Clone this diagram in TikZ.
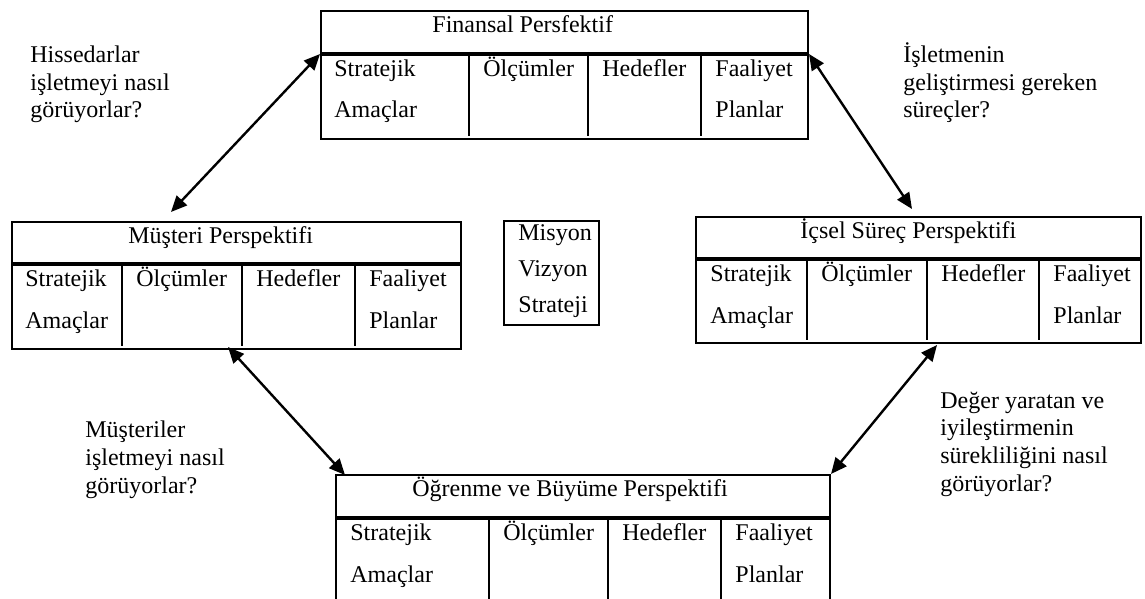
\documentclass[tikz,border=0pt]{standalone}
\usepackage{fontspec}
\setmainfont{Liberation Serif}
\usepackage{tikz}
\usetikzlibrary{
    positioning,
    arrows.meta,
    calc
}

\begin{document}
\begin{tikzpicture}[x=0.5pt, y=-0.5pt,
  font=\fontsize{12}{13.8}\selectfont,
  box/.style={draw, line width=1pt, rectangle, inner sep=0pt, anchor=north west},
  title/.style={anchor=base west, inner sep=0pt},
  cell/.style={anchor=base west, inner sep=0pt, align=left, font=\fontsize{12}{20.7}\selectfont},
  note/.style={anchor=base west, inner sep=0pt, align=left},
  link/.style={{Triangle[length=8pt,width=7pt]}-{Triangle[length=8pt,width=7pt]}, line width=1.2pt}]
\useasboundingbox (0,0) rectangle (1145,599);
\clip (0,0) rectangle (1145,599);

% Finansal
\node[box, minimum width=243.5pt, minimum height=21pt] (fin) at (320,10) {};
\node[box, minimum width=243.5pt, minimum height=42pt] (finbody) at (fin.south west) {};
\draw[line width=1pt] (469,52) -- (469,136) (588,52) -- (588,136) (701,52) -- (701,136);
\node[title] (fintitle) at (432,33) {Finansal Persfektif};
\node[cell] (fin1) at (334,118) {Stratejik\\Amaçlar};
\node[cell] (fin2) at (483,76) {Ölçümler};
\node[cell] (fin3) at (602,76) {Hedefler};
\node[cell] (fin4) at (715,118) {Faaliyet\\Planlar};

% Musteri
\node[box, minimum width=224.5pt, minimum height=20.5pt] (mus) at (11,221) {};
\node[box, minimum width=224.5pt, minimum height=42pt] (musbody) at (mus.south west) {};
\draw[line width=1pt] (122,262) -- (122,346) (242,262) -- (242,346) (355,262) -- (355,346);
\node[title] (mustitle) at (128,243) {Müşteri Perspektifi};
\node[cell] (mus1) at (25,328) {Stratejik\\Amaçlar};
\node[cell] (mus2) at (136,286) {Ölçümler};
\node[cell] (mus3) at (256,286) {Hedefler};
\node[cell] (mus4) at (369,328) {Faaliyet\\Planlar};

% Icsel surec
\node[box, minimum width=222.5pt, minimum height=20.5pt] (ics) at (695,216) {};
\node[box, minimum width=222.5pt, minimum height=41.5pt] (icsbody) at (ics.south west) {};
\draw[line width=1pt] (807,257) -- (807,340) (927,257) -- (927,340) (1039,257) -- (1039,340);
\node[title] (icstitle) at (800,238) {İçsel Süreç Perspektifi};
\node[cell] (ics1) at (710,323) {Stratejik\\Amaçlar};
\node[cell] (ics2) at (821,281) {Ölçümler};
\node[cell] (ics3) at (941,281) {Hedefler};
\node[cell] (ics4) at (1053,323) {Faaliyet\\Planlar};

% Ogrenme
\node[box, minimum width=247pt, minimum height=21pt] (ogr) at (335,474) {};
\node[box, minimum width=247pt, minimum height=42pt] (ogrbody) at (ogr.south west) {};
\draw[line width=1pt] (489,516) -- (489,600) (608,516) -- (608,600) (721,516) -- (721,600);
\node[title] (ogrtitle) at (412,496) {Öğrenme ve Büyüme Perspektifi};
\node[cell] (ogr1) at (350,582) {Stratejik\\Amaçlar};
\node[cell] (ogr2) at (503,540) {Ölçümler};
\node[cell] (ogr3) at (622,540) {Hedefler};
\node[cell] (ogr4) at (735,582) {Faaliyet\\Planlar};

% center
\node[box, minimum width=47.5pt, minimum height=52pt] (misyon) at (503,220) {};
\node[cell, font=\fontsize{12}{18}\selectfont] (misyontext) at (518,312) {Misyon\\Vizyon\\Strateji};

% questions
\node[note] (q1) at (30,118) {Hissedarlar\\işletmeyi nasıl\\görüyorlar?};
\node[note] (q2) at (903,118) {İşletmenin\\geliştirmesi gereken\\süreçler?};
\node[note] (q3) at (85,493) {Müşteriler\\işletmeyi nasıl\\görüyorlar?};
\node[note] (q4) at (940,491) {Değer yaratan ve\\iyileştirmenin\\sürekliliğini nasıl\\görüyorlar?};

% arrows
\coordinate (musA) at (171,212);
\coordinate (icsA) at (912,209);
\coordinate (musB) at (228,347);
\coordinate (ogrA) at (345,475);
\coordinate (icsB) at (937,345);
\draw[link] (finbody.north west) -- (musA);
\draw[link] (finbody.north east) -- (icsA);
\draw[link] (musB) -- (ogrA);
\draw[link] (icsB) -- (ogr.north east);
\end{tikzpicture}
\end{document}
